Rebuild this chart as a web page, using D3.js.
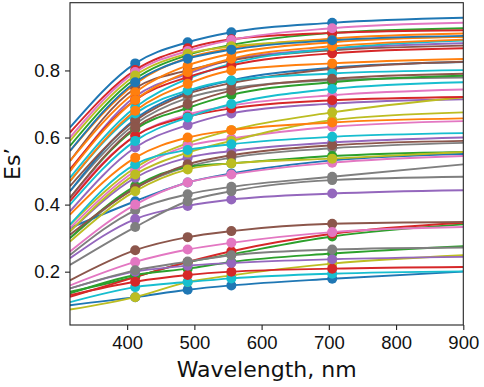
<!DOCTYPE html>
<html>
<head>
<meta charset="utf-8">
<script src="https://cdn.jsdelivr.net/npm/d3@7"></script>
<style>
  body { margin: 0; background: #fff; }
  svg { font-family: "DejaVu Sans", sans-serif; }
</style>
</head>
<body>
<div id="chart"></div>
<script>
// wavelengths (nm) of the fitted curve samples and of the measured points
const lineWavelengths = [315, 412, 490, 555, 705, 900];
const markerWavelengths = [412, 490, 555, 705];
const xTicks = [400, 500, 600, 700, 800, 900];
const yTicks = [0.2, 0.4, 0.6, 0.8];

// Es' values at lineWavelengths, five series per colour of the cycle
const blueSeries = [
    [0.630, 0.821, 0.884, 0.914, 0.942, 0.957],
    [0.440, 0.655, 0.735, 0.770, 0.808, 0.825],
    [0.330, 0.410, 0.466, 0.493, 0.532, 0.551],
    [0.100, 0.124, 0.146, 0.159, 0.179, 0.200],
    [0.560, 0.765, 0.835, 0.862, 0.890, 0.903]
];
const orangeSeries = [
    [0.560, 0.760, 0.838, 0.866, 0.895, 0.910],
    [0.530, 0.735, 0.815, 0.850, 0.884, 0.900],
    [0.500, 0.712, 0.795, 0.835, 0.872, 0.892],
    [0.470, 0.680, 0.760, 0.800, 0.821, 0.834],
    [0.370, 0.540, 0.600, 0.622, 0.645, 0.657]
];
const greenSeries = [
    [0.575, 0.775, 0.846, 0.876, 0.912, 0.926],
    [0.420, 0.625, 0.688, 0.727, 0.765, 0.784],
    [0.300, 0.455, 0.513, 0.523, 0.545, 0.557],
    [0.140, 0.185, 0.228, 0.252, 0.305, 0.341],
    [0.135, 0.190, 0.209, 0.229, 0.254, 0.276]
];
const redSeries = [
    [0.615, 0.801, 0.866, 0.893, 0.912, 0.920],
    [0.505, 0.712, 0.780, 0.815, 0.851, 0.866],
    [0.410, 0.605, 0.662, 0.687, 0.711, 0.721],
    [0.125, 0.184, 0.229, 0.261, 0.313, 0.346],
    [0.130, 0.170, 0.190, 0.200, 0.209, 0.214]
];
const purpleSeries = [
    [0.500, 0.722, 0.790, 0.832, 0.864, 0.881],
    [0.380, 0.570, 0.637, 0.672, 0.701, 0.714],
    [0.320, 0.480, 0.540, 0.560, 0.585, 0.600],
    [0.240, 0.357, 0.396, 0.415, 0.433, 0.443],
    [0.150, 0.200, 0.218, 0.226, 0.237, 0.244]
];
const brownSeries = [
    [0.530, 0.747, 0.800, 0.830, 0.860, 0.874],
    [0.455, 0.650, 0.730, 0.762, 0.805, 0.826],
    [0.310, 0.449, 0.520, 0.547, 0.577, 0.590],
    [0.174, 0.264, 0.303, 0.321, 0.343, 0.348],
    [0.420, 0.630, 0.700, 0.740, 0.775, 0.790]
];
const pinkSeries = [
    [0.600, 0.795, 0.858, 0.891, 0.926, 0.942],
    [0.420, 0.605, 0.668, 0.695, 0.726, 0.743],
    [0.330, 0.500, 0.575, 0.597, 0.632, 0.649],
    [0.260, 0.400, 0.466, 0.490, 0.525, 0.545],
    [0.159, 0.229, 0.266, 0.286, 0.318, 0.333]
];
const graySeries = [
    [0.440, 0.640, 0.718, 0.747, 0.771, 0.779],
    [0.300, 0.449, 0.513, 0.540, 0.568, 0.584],
    [0.250, 0.383, 0.431, 0.453, 0.483, 0.520],
    [0.220, 0.333, 0.410, 0.440, 0.473, 0.483],
    [0.150, 0.204, 0.230, 0.249, 0.266, 0.272]
];
const oliveSeries = [
    [0.590, 0.785, 0.850, 0.872, 0.890, 0.900],
    [0.340, 0.510, 0.583, 0.622, 0.675, 0.720],
    [0.320, 0.490, 0.555, 0.590, 0.652, 0.675],
    [0.087, 0.124, 0.169, 0.189, 0.224, 0.249],
    [0.290, 0.440, 0.505, 0.523, 0.537, 0.557]
];
const cyanSeries = [
    [0.480, 0.690, 0.775, 0.820, 0.865, 0.889],
    [0.470, 0.672, 0.740, 0.770, 0.791, 0.801],
    [0.340, 0.520, 0.563, 0.580, 0.602, 0.613],
    [0.109, 0.154, 0.169, 0.180, 0.194, 0.201],
    [0.400, 0.590, 0.660, 0.700, 0.745, 0.765]
];

const colorGroups = [blueSeries, orangeSeries, greenSeries, redSeries, purpleSeries,
                     brownSeries, pinkSeries, graySeries, oliveSeries, cyanSeries];

// matplotlib's colour cycle: series i gets colour i % 10
let allSeries = [];
for (let k = 0; k < 5; k++) {
    colorGroups.forEach((g, c) => allSeries.push({ color: d3.schemeCategory10[c], values: g[k] }));
}

const width = 484;
const height = 387;
const plotLeft = 70, plotRight = 463.3, plotTop = 2.7, plotBottom = 325;

const x_scale = d3.scaleLinear().domain([315, 900]).range([plotLeft, plotRight]);
const y_scale = d3.scaleLinear().domain([0.041, 1.002]).range([plotBottom, plotTop]);

const svg = d3.select("#chart")
    .append("svg")
        .attr("width", width)
        .attr("height", height);

svg.append("clipPath").attr("id", "clip")
    .append("rect")
        .attr("x", plotLeft).attr("y", plotTop)
        .attr("width", plotRight - plotLeft).attr("height", plotBottom - plotTop);

const plot = svg.append("g").attr("clip-path", "url(#clip)");

const line = d3.line()
    .x((d, i) => x_scale(lineWavelengths[i]))
    .y(d => y_scale(d))
    .curve(d3.curveMonotoneX);

allSeries.forEach(s => {
    plot.append("path")
        .attr("d", line(s.values))
        .attr("fill", "none")
        .attr("stroke", s.color)
        .attr("stroke-width", 1.9);

    plot.selectAll(null)
        .data(markerWavelengths)
        .enter()
        .append("circle")
            .attr("cx", d => x_scale(d))
            .attr("cy", d => y_scale(s.values[lineWavelengths.indexOf(d)]))
            .attr("r", 5)
            .attr("fill", s.color);
});

// axes
const x_axis = d3.axisBottom(x_scale).tickValues(xTicks).tickSize(5).tickPadding(6);
const y_axis = d3.axisLeft(y_scale).tickValues(yTicks).tickSize(5).tickPadding(5)
    .tickFormat(d3.format(".1f"));

const gx = svg.append("g")
    .attr("transform", `translate(0, ${plotBottom})`)
    .call(x_axis);
const gy = svg.append("g")
    .attr("transform", `translate(${plotLeft}, 0)`)
    .call(y_axis);

[gx, gy].forEach(g => {
    g.select(".domain").remove();
    g.selectAll("line").attr("stroke", "#222").attr("stroke-width", 1.1);
    g.selectAll("text").attr("fill", "#111").style("font-size", "18.5px");
});

// frame
svg.append("rect")
    .attr("x", plotLeft).attr("y", plotTop)
    .attr("width", plotRight - plotLeft).attr("height", plotBottom - plotTop)
    .attr("fill", "none")
    .attr("stroke", "#222")
    .attr("stroke-width", 1.1);

svg.append("text")
    .text("Wavelength, nm")
    .attr("x", (plotLeft + plotRight) / 2)
    .attr("y", 377)
    .attr("text-anchor", "middle")
    .style("font-size", "22px")
    .attr("fill", "#111");

svg.append("text")
    .text("Es\u2019")
    .attr("transform", `translate(20, ${(plotTop + plotBottom) / 2}) rotate(-90)`)
    .attr("text-anchor", "middle")
    .style("font-size", "22px")
    .attr("fill", "#111");
</script>
</body>
</html>
